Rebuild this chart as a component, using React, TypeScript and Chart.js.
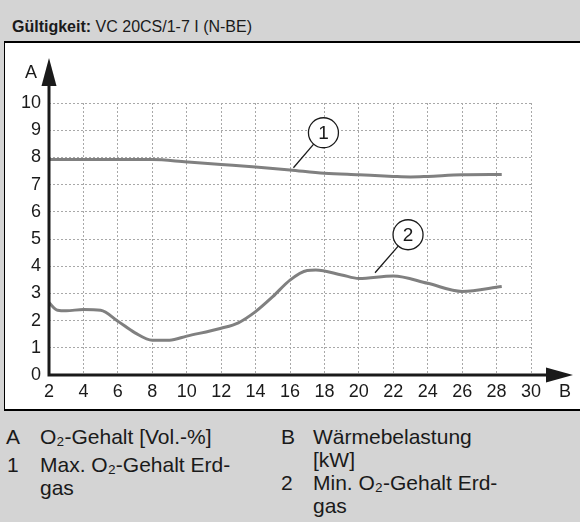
import React, { useEffect, useRef } from "react";
import { Chart, registerables } from "chart.js";

Chart.register(...registerables);

// ---- data ----
const xMin = 2;
const xMax = 30;
const xStep = 2;
const yMin = 0;
const yMax = 10;
const yStep = 1;

const maxLoad = [2, 4, 6, 8, 10, 12, 14, 16, 18, 20, 22, 23, 24, 26, 28.3];
const maxO2 = [7.92, 7.92, 7.92, 7.92, 7.83, 7.74, 7.65, 7.54, 7.42, 7.36, 7.3, 7.28, 7.3, 7.36, 7.37];

const minLoad = [2, 2.5, 3, 4, 5, 6, 7, 8, 9, 10, 12, 13, 14, 15, 16, 17, 17.5, 19, 20, 22, 24, 26, 28.3];
const minO2 = [2.66, 2.38, 2.36, 2.41, 2.38, 1.98, 1.55, 1.28, 1.28, 1.43, 1.72, 1.92, 2.33, 2.88, 3.49, 3.84, 3.86, 3.68, 3.55, 3.64, 3.37, 3.07, 3.25];

const calloutLabels = ["1", "2"];
const calloutLoad = [16.2, 20.94];
const calloutO2 = [7.62, 3.76];

const axisLabelY = "A";
const axisLabelX = "B";

const FONT = "'Liberation Sans', Arial, Helvetica, sans-serif";
const LINE_COLOR = "#808080";
const INK = "#1a1a1a";

const toPoints = (xs: number[], ys: number[]) => xs.map((x, i) => ({ x, y: ys[i] }));

const decorPlugin = {
  id: "decor",
  afterDatasetsDraw(chart: any) {
    const { ctx, chartArea } = chart;
    const { left, right, top, bottom } = chartArea;
    const xs = chart.scales.x;
    const ys = chart.scales.y;
    ctx.save();
    // axes
    ctx.strokeStyle = INK;
    ctx.fillStyle = INK;
    ctx.lineWidth = 3;
    ctx.lineCap = "butt";
    ctx.beginPath();
    ctx.moveTo(left, top - 20);
    ctx.lineTo(left, bottom);
    ctx.lineTo(right + 20, bottom);
    ctx.stroke();
    // y arrow
    ctx.beginPath();
    ctx.moveTo(left, top - 45);
    ctx.lineTo(left - 7.5, top - 17);
    ctx.lineTo(left + 7.5, top - 17);
    ctx.closePath();
    ctx.fill();
    // x arrow
    ctx.beginPath();
    ctx.moveTo(right + 42, bottom);
    ctx.lineTo(right + 15, bottom - 7.5);
    ctx.lineTo(right + 15, bottom + 7.5);
    ctx.closePath();
    ctx.fill();
    // axis labels
    ctx.font = `18px ${FONT}`;
    ctx.textAlign = "center";
    ctx.textBaseline = "middle";
    ctx.fillText(axisLabelY, left - 18, top - 30);
    ctx.fillText(axisLabelX, right + 34, bottom + 17);

    // callouts
    const offsets = [
      [30, -35],
      [33, -38],
    ];
    const r = 15;
    calloutLabels.forEach((lab, i) => {
      const tx = xs.getPixelForValue(calloutLoad[i]);
      const ty = ys.getPixelForValue(calloutO2[i]);
      const cx = tx + offsets[i][0];
      const cy = ty + offsets[i][1];
      const d = Math.hypot(cx - tx, cy - ty);
      const ex = cx - ((cx - tx) / d) * r;
      const ey = cy - ((cy - ty) / d) * r;
      ctx.strokeStyle = INK;
      ctx.lineWidth = 1.3;
      ctx.beginPath();
      ctx.moveTo(tx, ty);
      ctx.lineTo(ex, ey);
      ctx.stroke();
      ctx.beginPath();
      ctx.arc(cx, cy, r, 0, Math.PI * 2);
      ctx.fillStyle = "#ffffff";
      ctx.fill();
      ctx.stroke();
      ctx.fillStyle = INK;
      ctx.font = `19px ${FONT}`;
      ctx.fillText(lab, cx, cy + 1);
    });
    ctx.restore();
  },
};

function ChartCanvas() {
  const ref = useRef<HTMLCanvasElement | null>(null);
  useEffect(() => {
    if (!ref.current) return;
    const chart = new Chart(ref.current, {
      type: "line",
      data: {
        datasets: [
          {
            label: "Max",
            data: toPoints(maxLoad, maxO2),
            borderColor: LINE_COLOR,
            borderWidth: 3,
            pointRadius: 0,
            cubicInterpolationMode: "monotone",
            fill: false,
          },
          {
            label: "Min",
            data: toPoints(minLoad, minO2),
            borderColor: LINE_COLOR,
            borderWidth: 3,
            pointRadius: 0,
            cubicInterpolationMode: "monotone",
            fill: false,
          },
        ],
      },
      options: {
        animation: false,
        responsive: false,
        devicePixelRatio: 1,
        events: [],
        layout: { padding: { top: 60, left: 0, right: 48, bottom: 0 } },
        plugins: {
          legend: { display: false },
          tooltip: { enabled: false },
          title: { display: false },
        },
        scales: {
          x: {
            type: "linear",
            min: xMin,
            max: xMax,
            ticks: {
              stepSize: xStep,
              padding: 6,
              color: INK,
              font: { family: FONT, size: 18 },
              maxRotation: 0,
              autoSkip: false,
            },
            grid: { color: "#a8a8a8", lineWidth: 1, drawTicks: false },
            border: { display: false, dash: [2, 2] },
            afterFit: (s: any) => {
              s.height = 34;
            },
          },
          y: {
            type: "linear",
            min: yMin,
            max: yMax,
            ticks: {
              stepSize: yStep,
              padding: 8,
              color: INK,
              font: { family: FONT, size: 18 },
            },
            grid: { color: "#a8a8a8", lineWidth: 1, drawTicks: false },
            border: { display: false, dash: [2, 2] },
            afterFit: (s: any) => {
              s.width = 44;
            },
          },
        },
      },
      plugins: [decorPlugin],
    } as any);
    return () => chart.destroy();
  }, []);
  return <canvas ref={ref} width={574} height={366} style={{ display: "block", width: 574, height: 366 }} />;
}

const legendText: React.CSSProperties = {
  position: "absolute",
  fontFamily: FONT,
  fontSize: 21,
  lineHeight: "23px",
  color: INK,
  whiteSpace: "nowrap",
};

export default function App() {
  return (
    <div
      style={{
        position: "absolute",
        left: 0,
        top: 0,
        width: 580,
        height: 522,
        overflow: "hidden",
        background: "#d4d4d4",
      }}
    >
      <div
        style={{
          position: "absolute",
          left: 12,
          top: 17,
          fontFamily: FONT,
          fontSize: 16,
          lineHeight: "20px",
          color: INK,
          whiteSpace: "nowrap",
        }}
      >
        <b>Gültigkeit:</b> VC 20CS/1-7 I (N-BE)
      </div>
      <div
        style={{
          position: "absolute",
          left: 4,
          top: 41,
          width: 600,
          height: 366,
          background: "#ffffff",
          borderTop: "2px solid #000",
          borderBottom: "2px solid #000",
          borderLeft: "1.5px solid #000",
        }}
      >
        <ChartCanvas />
      </div>
      <div style={{ ...legendText, left: 6, top: 425 }}>A</div>
      <div style={{ ...legendText, left: 40, top: 425 }}>O₂-Gehalt [Vol.-%]</div>
      <div style={{ ...legendText, left: 281, top: 425 }}>B</div>
      <div style={{ ...legendText, left: 313, top: 425 }}>
        Wärmebelastung
        <br />
        [kW]
      </div>
      <div style={{ ...legendText, left: 7, top: 453 }}>1</div>
      <div style={{ ...legendText, left: 40, top: 453 }}>
        Max. O₂-Gehalt Erd-
        <br />
        gas
      </div>
      <div style={{ ...legendText, left: 281, top: 471 }}>2</div>
      <div style={{ ...legendText, left: 313, top: 471 }}>
        Min. O₂-Gehalt Erd-
        <br />
        gas
      </div>
    </div>
  );
}
